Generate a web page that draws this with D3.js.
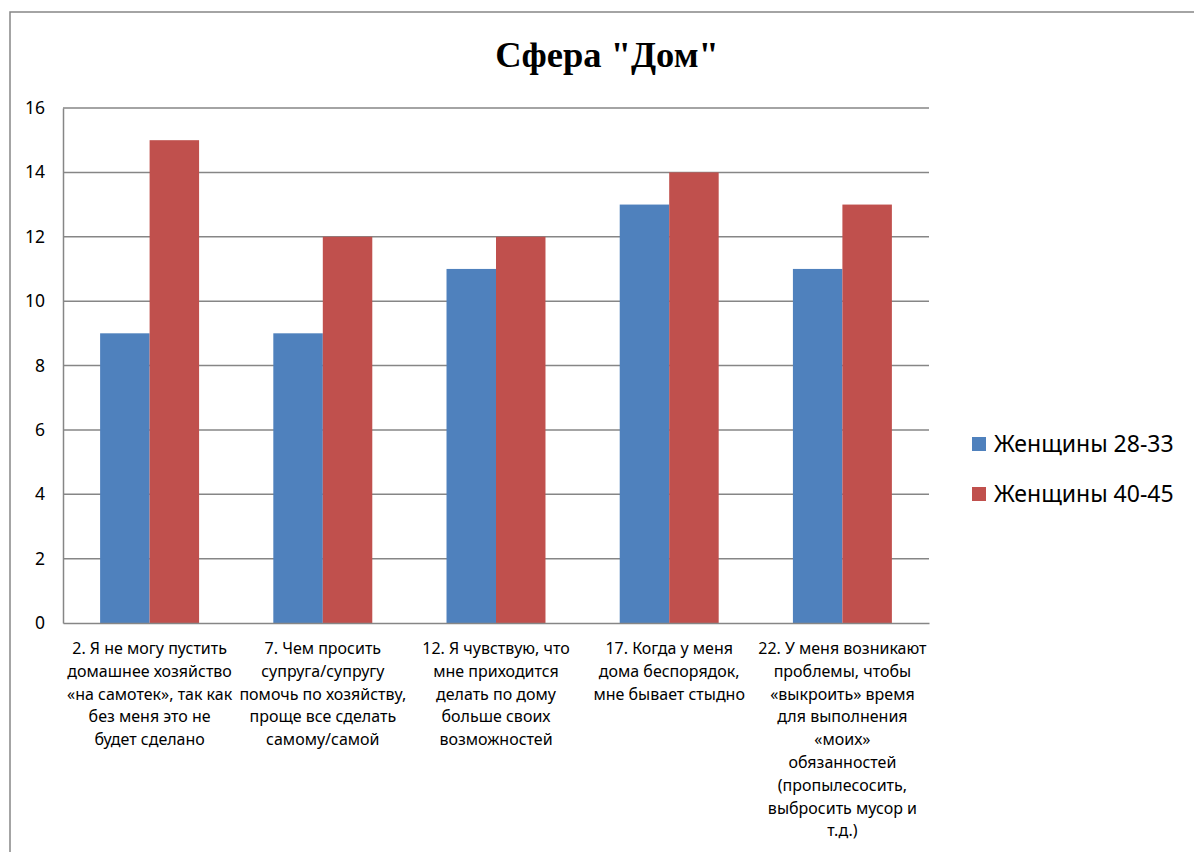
<!DOCTYPE html>
<html>
<head>
<meta charset="utf-8">
<script src="https://cdn.jsdelivr.net/npm/d3@7"></script>
<style>
  body { margin: 0; background: #fff; }
</style>
</head>
<body>
<div id="chart-area"></div>
<script>
// Data
var categories = [
  "2. Я не могу пустить домашнее хозяйство «на самотек», так как без меня это не будет сделано",
  "7. Чем просить супруга/супругу помочь по хозяйству, проще все сделать самому/самой",
  "12. Я чувствую, что мне приходится делать по дому больше своих возможностей",
  "17. Когда у меня дома беспорядок, мне бывает стыдно",
  "22. У меня возникают проблемы, чтобы «выкроить»  время для выполнения «моих» обязанностей (пропылесосить, выбросить мусор и т.д.)"
];
// Lines as wrapped in the reference
var categoryLines = [
  ["2. Я не могу пустить", "домашнее хозяйство", "«на самотек», так как", "без меня это не", "будет сделано"],
  ["7. Чем просить", "супруга/супругу", "помочь по хозяйству,", "проще все сделать", "самому/самой"],
  ["12. Я чувствую, что", "мне приходится", "делать по дому", "больше своих", "возможностей"],
  ["17. Когда у меня", "дома беспорядок,", "мне бывает стыдно"],
  ["22. У меня возникают", "проблемы, чтобы", "«выкроить»  время", "для выполнения", "«моих»", "обязанностей", "(пропылесосить,", "выбросить мусор и", "т.д.)"]
];
var seriesNames = ["Женщины 28-33", "Женщины 40-45"];
var women2833 = [9, 9, 11, 13, 11];
var women4045 = [15, 12, 12, 14, 13];
var yTicks = [0, 2, 4, 6, 8, 10, 12, 14, 16];
var colors = ["#4F81BD", "#C0504D"];

var W = 1194, H = 852;
var plot = { left: 63, top: 108, right: 929, bottom: 623 };
var font = "'Noto Sans', 'Open Sans', sans-serif";

var svg = d3.select("#chart-area").append("svg")
  .attr("width", W)
  .attr("height", H);

// Outer chart border
svg.append("rect")
  .attr("x", 10).attr("y", 12)
  .attr("width", W + 20).attr("height", H + 20)
  .attr("fill", "none")
  .attr("stroke", "#868686")
  .attr("stroke-width", 1.5);

// Title
svg.append("text")
  .attr("x", 607).attr("y", 67)
  .attr("text-anchor", "middle")
  .attr("font-family", "'Liberation Serif', 'Times New Roman', serif")
  .attr("font-weight", "bold")
  .attr("font-size", "36.5px")
  .text('Сфера "Дом"');

// Scales
var x0 = d3.scaleBand()
  .domain(d3.range(categories.length))
  .range([plot.left, plot.right])
  .paddingInner(0)
  .paddingOuter(0);

var x1 = d3.scaleBand()
  .domain([0, 1])
  .range([0, x0.bandwidth()])
  .paddingInner(0)
  .paddingOuter(0.75);

var y = d3.scaleLinear()
  .domain([0, 16])
  .range([plot.bottom, plot.top]);

// Gridlines
svg.append("g")
  .selectAll("line")
  .data(yTicks.filter(function(d) { return d > 0; }))
  .enter().append("line")
    .attr("x1", plot.left).attr("x2", plot.right)
    .attr("y1", function(d) { return y(d); })
    .attr("y2", function(d) { return y(d); })
    .attr("stroke", "#868686")
    .attr("stroke-width", 1.5);

// Y axis
var yAxis = svg.append("g")
  .attr("transform", "translate(" + plot.left + ",0)")
  .call(d3.axisLeft(y).tickValues(yTicks).tickSize(0).tickPadding(18));
yAxis.select(".domain").attr("stroke", "#868686").attr("stroke-width", 1.5);
yAxis.selectAll("text")
  .attr("font-family", font)
  .attr("font-size", "17.5px")
  .attr("fill", "#000");

// Bars
var groups = svg.append("g")
  .selectAll("g")
  .data(categories.map(function(c, i) { return [women2833[i], women4045[i]]; }))
  .enter().append("g")
    .attr("transform", function(d, i) { return "translate(" + x0(i) + ",0)"; });

groups.selectAll("rect")
  .data(function(d) { return d; })
  .enter().append("rect")
    .attr("x", function(d, j) { return x1(j); })
    .attr("width", x1.bandwidth())
    .attr("y", function(d) { return y(d); })
    .attr("height", function(d) { return y(0) - y(d); })
    .attr("fill", function(d, j) { return colors[j]; });

// X axis
var xAxis = svg.append("g")
  .attr("transform", "translate(0," + plot.bottom + ")")
  .call(d3.axisBottom(x0).tickSize(0).tickFormat(""));
xAxis.select(".domain").attr("stroke", "#868686").attr("stroke-width", 1.5);

xAxis.selectAll(".tick text").remove();
xAxis.selectAll(".tick").each(function(d, i) {
  var t = d3.select(this).append("text")
    .attr("text-anchor", "middle")
    .attr("font-family", font)
    .attr("font-size", "16px")
    .attr("fill", "#000");
  categoryLines[i].forEach(function(line, k) {
    t.append("tspan")
      .attr("x", 0)
      .attr("y", 31 + k * 22.8)
      .text(line);
  });
});

// Legend
var legend = svg.append("g")
  .selectAll("g")
  .data(seriesNames)
  .enter().append("g")
    .attr("transform", function(d, i) { return "translate(972," + (437 + i * 50) + ")"; });

legend.append("rect")
  .attr("width", 14).attr("height", 14)
  .attr("fill", function(d, i) { return colors[i]; });

legend.append("text")
  .attr("x", 22).attr("y", 15)
  .attr("font-family", font)
  .attr("font-size", "23px")
  .attr("fill", "#000")
  .text(function(d) { return d; });
</script>
</body>
</html>
